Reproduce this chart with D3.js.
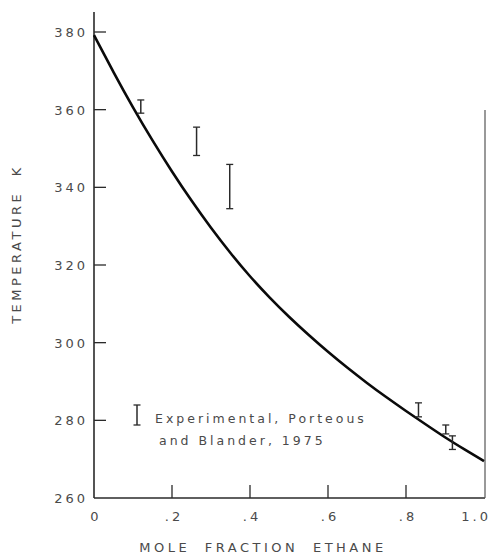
<!DOCTYPE html>
<html>
<head>
    <meta charset="utf-8">
    <title>Temperature vs mole fraction ethane</title>
    <script type="text/javascript" src="https://cdn.jsdelivr.net/npm/d3@7/dist/d3.min.js"></script>
</head>
<body>
<div id="chart"></div>
</body>
</html>

<style type="text/css">
body {
  margin: 0;
  background: #fff;
}

text {
  font-family: "DejaVu Sans", sans-serif;
  fill: #4a4a4a;
}

.tick-label {
  font-size: 13px;
  letter-spacing: 3px;
}

.axis-title {
  font-size: 13px;
  letter-spacing: 3.5px;
  word-spacing: 7px;
}

.legend-text {
  font-size: 12.5px;
  letter-spacing: 3px;
}
</style>

<script>

// calculated curve
var curveX = [0, 0.05, 0.1, 0.15, 0.2, 0.25, 0.3, 0.35, 0.4, 0.45, 0.5, 0.55, 0.6, 0.65, 0.7, 0.75, 0.8, 0.85, 0.9, 0.95, 1.0];
var curveT = [379.2, 369.6, 360.5, 352.0, 344.0, 336.5, 329.5, 323.0, 317.0, 311.6, 306.6, 302.0, 297.6, 293.5, 289.6, 285.9, 282.4, 279.0, 275.6, 272.5, 269.5];

// experimental points, Porteous and Blander 1975
var expX = [0.12, 0.263, 0.348, 0.832, 0.902, 0.919];
var expLow = [359.1, 348.2, 334.5, 280.9, 276.5, 272.5];
var expHigh = [362.5, 355.5, 345.9, 284.5, 278.8, 276.0];

var xTicks = [0, 0.2, 0.4, 0.6, 0.8, 1.0];
var xTickLabels = ["0", ".2", ".4", ".6", ".8", "1.0"];
var yTicks = [260, 280, 300, 320, 340, 360, 380];

var width = 492,
    height = 554;

var x = d3.scaleLinear().domain([0, 1]).range([94, 484]);
var y = d3.scaleLinear().domain([260, 380]).range([498, 32]);

var svg = d3.select("#chart")
    .append("svg")
    .attr("width", width)
    .attr("height", height);

var ink = "#2a2a2a";

// left axis line (runs above 380)
svg.append("line")
    .attr("x1", x(0)).attr("x2", x(0))
    .attr("y1", 12).attr("y2", y(260))
    .attr("stroke", ink).attr("stroke-width", 1.6);

// bottom axis line
svg.append("line")
    .attr("x1", x(0)).attr("x2", x(1) + 1)
    .attr("y1", y(260)).attr("y2", y(260))
    .attr("stroke", ink).attr("stroke-width", 1.6);

// right border line
svg.append("line")
    .attr("x1", x(1) + 1).attr("x2", x(1) + 1)
    .attr("y1", 110).attr("y2", y(260))
    .attr("stroke", "#555").attr("stroke-width", 1.2);

// y ticks
svg.selectAll(".ytick")
    .data(yTicks.slice(1))
    .enter().append("line")
    .attr("class", "ytick")
    .attr("x1", x(0)).attr("x2", x(0) + 12)
    .attr("y1", function(d) { return y(d); })
    .attr("y2", function(d) { return y(d); })
    .attr("stroke", ink).attr("stroke-width", 1.3);

svg.selectAll(".ylabel")
    .data(yTicks)
    .enter().append("text")
    .attr("class", "tick-label")
    .attr("x", 88)
    .attr("y", function(d) { return y(d) + 5; })
    .attr("text-anchor", "end")
    .text(function(d) { return d; });

// x ticks
svg.selectAll(".xtick")
    .data(xTicks.slice(1, 5))
    .enter().append("line")
    .attr("class", "xtick")
    .attr("x1", function(d) { return x(d); })
    .attr("x2", function(d) { return x(d); })
    .attr("y1", y(260)).attr("y2", y(260) - 13)
    .attr("stroke", ink).attr("stroke-width", 1.3);

svg.selectAll(".xlabel")
    .data(xTicks)
    .enter().append("text")
    .attr("class", "tick-label")
    .attr("x", function(d) { return d === 1 ? 491 : x(d) + 2; })
    .attr("y", 521)
    .attr("text-anchor", function(d) { return d === 1 ? "end" : "middle"; })
    .text(function(d, i) { return xTickLabels[i]; });

// axis titles
svg.append("text")
    .attr("class", "axis-title")
    .attr("x", 263)
    .attr("y", 552)
    .attr("text-anchor", "middle")
    .text("MOLE FRACTION ETHANE");

svg.append("text")
    .attr("class", "axis-title")
    .attr("transform", "translate(21,244) rotate(-90)")
    .attr("text-anchor", "middle")
    .text("TEMPERATURE K");

// curve
var line = d3.line()
    .x(function(d) { return x(d[0]); })
    .y(function(d) { return y(d[1]); })
    .curve(d3.curveBasis);

svg.append("path")
    .datum(d3.zip(curveX, curveT))
    .attr("d", line)
    .attr("fill", "none")
    .attr("stroke", "#0a0a0a")
    .attr("stroke-width", 2.6);

// error bars
function errorBar(g, cx, y1, y2) {
    g.append("line")
        .attr("x1", cx).attr("x2", cx)
        .attr("y1", y1).attr("y2", y2)
        .attr("stroke", ink).attr("stroke-width", 1.5);
    g.append("line")
        .attr("x1", cx - 3.5).attr("x2", cx + 3.5)
        .attr("y1", y1).attr("y2", y1)
        .attr("stroke", ink).attr("stroke-width", 1.3);
    g.append("line")
        .attr("x1", cx - 3.5).attr("x2", cx + 3.5)
        .attr("y1", y2).attr("y2", y2)
        .attr("stroke", ink).attr("stroke-width", 1.3);
}

var bars = svg.append("g");
for (var i = 0; i < expX.length; i++) {
    errorBar(bars, x(expX[i]), y(expHigh[i]), y(expLow[i]));
}

// legend
var legend = svg.append("g");
errorBar(legend, 137, 405, 425);

legend.append("text")
    .attr("class", "legend-text")
    .attr("x", 155)
    .attr("y", 423)
    .text("Experimental, Porteous");

legend.append("text")
    .attr("class", "legend-text")
    .attr("x", 159)
    .attr("y", 445)
    .text("and Blander, 1975");

</script>
